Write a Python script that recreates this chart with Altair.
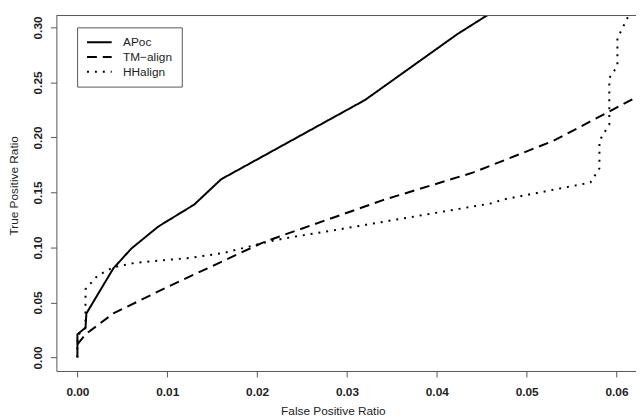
import altair as alt
import pandas as pd

series_names = ["APoc", "TM\u2212align", "HHalign"]

apoc_fpr = [0, 0, 0.0009, 0.001, 0.004, 0.006, 0.009, 0.013, 0.016, 0.032, 0.0423, 0.0485]
apoc_tpr = [0, 0.021, 0.027, 0.040, 0.081, 0.099, 0.119, 0.139, 0.162, 0.234, 0.294, 0.326]

tm_fpr = [0, 0.0009, 0.004, 0.010, 0.0205, 0.0225, 0.034, 0.044, 0.053, 0.063]
tm_tpr = [0.012, 0.021, 0.040, 0.064, 0.104, 0.110, 0.143, 0.168, 0.197, 0.240]

hh_fpr = [0, 0, 0.0009, 0.0009, 0.0022, 0.004, 0.0064, 0.0126, 0.0163, 0.0214, 0.0233,
          0.0288, 0.046, 0.0474, 0.0571, 0.0581, 0.0581, 0.0592, 0.0592, 0.0601, 0.0601,
          0.061, 0.0618]
hh_tpr = [0, 0.02, 0.027, 0.062, 0.074, 0.082, 0.086, 0.0906, 0.095, 0.1056, 0.1086,
          0.116, 0.140, 0.1436, 0.159, 0.172, 0.197, 0.212, 0.254, 0.265, 0.290,
          0.305, 0.318]

x_ticks = [0, 0.01, 0.02, 0.03, 0.04, 0.05, 0.06]
y_ticks = [0, 0.05, 0.10, 0.15, 0.20, 0.25, 0.30]

rows = []
for name, xs, ys in zip(series_names, [apoc_fpr, tm_fpr, hh_fpr], [apoc_tpr, tm_tpr, hh_tpr]):
    for i, (a, b) in enumerate(zip(xs, ys)):
        rows.append({"method": name, "fpr": a, "tpr": b, "idx": i})
df = pd.DataFrame(rows)

W, H = 587, 360
FONT = "Liberation Sans"
AX = "#555555"
TXT = "#222222"

x_enc = alt.X(
    "fpr:Q",
    scale=alt.Scale(domain=[-0.00234, 0.06217], nice=False, zero=False),
    axis=alt.Axis(
        values=x_ticks, format=".2f", title="False Positive Ratio", grid=False,
        tickSize=6, labelPadding=10, labelFontWeight="bold", labelFontSize=12,
        labelFont=FONT, labelColor=TXT, labelFlush=False,
        titleFont=FONT, titleFontSize=12, titleFontWeight="normal", titleColor=TXT,
        titleX=280, titleY=35, titleBaseline="top", titleAlign="center",
        domainColor=AX, tickColor=AX,
    ),
)
y_enc = alt.Y(
    "tpr:Q",
    scale=alt.Scale(domain=[-0.0123, 0.31086], nice=False, zero=False),
    axis=alt.Axis(
        values=y_ticks, format=".2f", title="True Positive Ratio", grid=False,
        tickSize=6, labelPadding=13, labelFontWeight="bold", labelFontSize=12,
        labelFont=FONT, labelColor=TXT, labelAngle=270, labelAlign="center",
        labelBaseline="middle", labelFlush=False,
        titleFont=FONT, titleFontSize=12, titleFontWeight="normal", titleColor=TXT,
        titleAngle=270, titleX=-39, titleY=172, titleAlign="center",
        titleBaseline="alphabetic",
        domainColor=AX, tickColor=AX,
    ),
)

lines = alt.Chart(df).mark_line(
    clip=True, color="black", strokeWidth=2, strokeCap="butt", strokeJoin="round"
).encode(
    x=x_enc,
    y=y_enc,
    strokeDash=alt.StrokeDash(
        "method:N",
        scale=alt.Scale(domain=series_names, range=[[1, 0], [10, 6], [2, 6]]),
        legend=alt.Legend(
            orient="none", legendX=21, legendY=12, title=None,
            symbolType="M-2.5,0H2.5", symbolSize=100, symbolStrokeWidth=2,
            symbolStrokeColor="black", symbolOffset=7.5,
            labelFont=FONT, labelFontSize=12, labelColor=TXT, labelOffset=18,
            strokeColor=AX, fillColor="white", padding=9, rowPadding=3,
        ),
    ),
    order="idx:Q",
)

top = alt.Chart(pd.DataFrame({"v": [0]})).mark_rule(color=AX, strokeWidth=1).encode(
    x=alt.value(0), x2=alt.value(W), y=alt.value(0)
)

chart = alt.layer(lines, top).properties(
    width=W, height=H,
    padding={"left": 49, "top": 5, "right": 0, "bottom": 45},
    autosize=alt.AutoSizeParams(type="none"),
).configure_view(stroke=None)

chart.save("out.html", embed_options={"renderer": "svg", "actions": False})
